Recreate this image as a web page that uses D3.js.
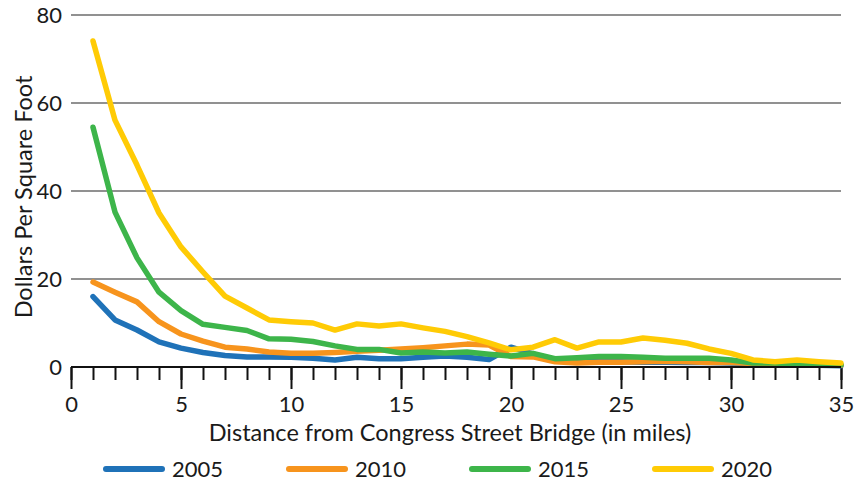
<!DOCTYPE html>
<html>
<head>
<meta charset="utf-8">
<script src="https://cdn.jsdelivr.net/npm/d3@7"></script>
<style>
  html, body { margin: 0; padding: 0; background: #fff; }
  svg { display: block; }
  text { font-family: Lato, "Open Sans", sans-serif; fill: #1a1a1a; font-weight: 400; }
</style>
</head>
<body>
<svg id="chart" width="856" height="487"></svg>
<script>
// Land value per square foot by distance from the bridge, one line per survey year
const miles = d3.range(1, 36);
const years = ["2005", "2010", "2015", "2020"];
const colors = ["#1f72b8", "#f7941d", "#3db54a", "#ffcb05"];

const v2005 = [16, 10.7, 8.4, 5.7, 4.3, 3.3, 2.6, 2.3, 2.3, 2.2, 2.0, 1.6, 2.2, 1.9, 1.9, 2.2, 2.5, 2.2, 1.7, 4.5,
               3.0, 1.4, 1.2, 1.2, 1.2, 1.1, 1.1, 1.0, 1.0, 0.9, 0.8, 0.7, 0.5, 0.4, 0.3];
const v2010 = [19.3, 17, 14.8, 10.3, 7.5, 5.9, 4.5, 4.1, 3.4, 3.1, 3.1, 3.3, 3.6, 3.8, 4.1, 4.4, 4.8, 5.2, 5.0, 2.4,
               2.3, 1.2, 0.9, 1.1, 1.1, 1.2, 1.3, 1.2, 1.0, 1.0, 0.8, 0.7, 0.6, 0.5, 0.4];
const v2015 = [54.5, 35.2, 24.8, 17, 12.8, 9.7, 9.0, 8.3, 6.4, 6.3, 5.8, 4.8, 4.0, 4.0, 3.2, 3.4, 3.2, 3.4, 2.9, 2.5,
               3.1, 1.9, 2.1, 2.4, 2.4, 2.2, 2.0, 2.0, 2.0, 1.6, 0.9, 0.9, 0.6, 0.6, 0.5];
const v2020 = [74.1, 56.1, 45.9, 35, 27.3, 21.6, 16.1, 13.4, 10.7, 10.3, 10.0, 8.4, 9.8, 9.3, 9.8, 8.9, 8.1, 6.9, 5.5, 3.9,
               4.5, 6.2, 4.3, 5.7, 5.7, 6.6, 6.1, 5.4, 4.1, 3.1, 1.6, 1.2, 1.6, 1.2, 0.9];
const seriesValues = [v2005, v2010, v2015, v2020];

const yTicks = [0, 20, 40, 60, 80];
const xMajorTicks = [0, 5, 10, 15, 20, 25, 30, 35];
const xMinorTicks = d3.range(0, 36);

const xTitle = "Distance from Congress Street Bridge (in miles)";
const yTitle = "Dollars Per Square Foot";

const svg = d3.select("#chart");
const margin = { left: 71, right: 15, top: 15, bottom: 120 };
const W = 856, H = 487;

const x = d3.scaleLinear().domain([0, 35]).range([margin.left, W - margin.right]);
const y = d3.scaleLinear().domain([0, 80]).range([H - margin.bottom, margin.top]);

// Horizontal gridlines
svg.append("g")
  .selectAll("line")
  .data(yTicks.filter(d => d > 0))
  .join("line")
  .attr("x1", x(0)).attr("x2", x(35))
  .attr("y1", d => y(d)).attr("y2", d => y(d))
  .attr("stroke", "#6d6d6d").attr("stroke-width", 1.4);

// Y tick labels
svg.append("g")
  .selectAll("text")
  .data(yTicks)
  .join("text")
  .attr("x", x(0) - 9)
  .attr("y", d => y(d))
  .attr("dy", "0.35em")
  .attr("text-anchor", "end")
  .attr("font-size", 22)
  .text(d => d);

// X axis: minor ticks every mile, longer major ticks every five
const xAxisMinor = d3.axisBottom(x).tickValues(xMinorTicks).tickSize(13).tickFormat("");
const xAxisMajor = d3.axisBottom(x).tickValues(xMajorTicks).tickSize(22).tickPadding(6).tickFormat(d3.format("d"));

const gMinor = svg.append("g").attr("transform", `translate(0,${y(0)})`).call(xAxisMinor);
gMinor.select(".domain").remove();
gMinor.selectAll(".tick line").attr("stroke", "#111").attr("stroke-width", 2);

const gMajor = svg.append("g").attr("transform", `translate(0,${y(0)})`).call(xAxisMajor);
gMajor.select(".domain").remove();
gMajor.selectAll(".tick line").attr("stroke", "#111").attr("stroke-width", 2);
gMajor.selectAll(".tick text")
  .attr("font-size", 22)
  .attr("font-family", null)
  .attr("fill", "#1a1a1a")
  .attr("y", 29);

// Series lines
const line = d3.line()
  .x((d, i) => x(miles[i]))
  .y(d => y(d));

svg.append("g")
  .selectAll("path")
  .data(seriesValues)
  .join("path")
  .attr("d", d => line(d))
  .attr("fill", "none")
  .attr("stroke", (d, i) => colors[i])
  .attr("stroke-width", 5.5)
  .attr("stroke-linejoin", "round")
  .attr("stroke-linecap", "round");

// Baseline drawn over the lines
svg.append("line")
  .attr("x1", x(0)).attr("x2", x(35))
  .attr("y1", y(0)).attr("y2", y(0))
  .attr("stroke", "#111").attr("stroke-width", 2);

// Axis titles
svg.append("text")
  .attr("x", 450)
  .attr("y", 441)
  .attr("text-anchor", "middle")
  .attr("font-size", 23.5)
  .text(xTitle);

svg.append("text")
  .attr("transform", `translate(32,197) rotate(-90)`)
  .attr("text-anchor", "middle")
  .attr("font-size", 23.5)
  .text(yTitle);

// Legend
const legend = svg.append("g")
  .selectAll("g")
  .data(years)
  .join("g")
  .attr("transform", (d, i) => `translate(${106 + i * 183},469)`);

legend.append("line")
  .attr("x1", 0).attr("x2", 56)
  .attr("stroke", (d, i) => colors[i])
  .attr("stroke-width", 6)
  .attr("stroke-linecap", "round");

legend.append("text")
  .attr("x", 66)
  .attr("dy", "0.35em")
  .attr("font-size", 22)
  .text(d => d);
</script>
</body>
</html>
